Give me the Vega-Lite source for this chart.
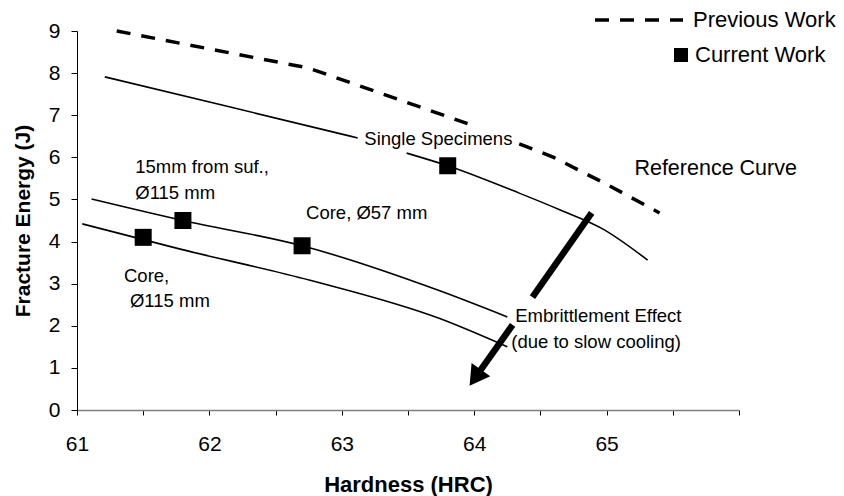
{
  "$schema": "https://vega.github.io/schema/vega-lite/v6.json",
  "width": 662,
  "height": 379,
  "autosize": {"type": "none"},
  "padding": {"left": 77, "top": 31, "right": 105, "bottom": 86},
  "background": "white",
  "config": {
    "view": {"stroke": null},
    "font": "Liberation Sans",
    "axis": {"grid": false, "labelFont": "Liberation Sans", "titleFont": "Liberation Sans", "labelColor": "black", "titleColor": "black"},
    "legend": {"labelFont": "Liberation Sans", "labelColor": "black"}
  },
  "datasets": {
    "lines": [
      {"curve": "ref", "seg": "ref1", "x": 61.21, "y": 7.91},
      {"curve": "ref", "seg": "ref1", "x": 62.15, "y": 7.2},
      {"curve": "ref", "seg": "ref1", "x": 63.12, "y": 6.46},
      {"curve": "ref", "seg": "ref2", "x": 63.49, "y": 6.1},
      {"curve": "ref", "seg": "ref2", "x": 63.8, "y": 5.8},
      {"curve": "ref", "seg": "ref2", "x": 64.34, "y": 5.15},
      {"curve": "ref", "seg": "ref2", "x": 64.65, "y": 4.75},
      {"curve": "ref", "seg": "ref2", "x": 64.97, "y": 4.3},
      {"curve": "ref", "seg": "ref2", "x": 65.31, "y": 3.56},
      {"curve": "A", "seg": "A", "x": 61.11, "y": 5.01},
      {"curve": "A", "seg": "A", "x": 61.8, "y": 4.5},
      {"curve": "A", "seg": "A", "x": 62.7, "y": 3.9},
      {"curve": "A", "seg": "A", "x": 63.74, "y": 2.83},
      {"curve": "A", "seg": "A", "x": 64.25, "y": 2.21},
      {"curve": "B", "seg": "B", "x": 61.04, "y": 4.42},
      {"curve": "B", "seg": "B", "x": 61.78, "y": 3.82},
      {"curve": "B", "seg": "B", "x": 62.76, "y": 3.08},
      {"curve": "B", "seg": "B", "x": 63.74, "y": 2.17},
      {"curve": "B", "seg": "B", "x": 64.25, "y": 1.5},
      {"curve": "prev", "seg": "prev1", "series": "Previous Work", "x": 61.3, "y": 9.0},
      {"curve": "prev", "seg": "prev1", "series": "Previous Work", "x": 62.75, "y": 8.12},
      {"curve": "prev", "seg": "prev1", "series": "Previous Work", "x": 63.95, "y": 6.8},
      {"curve": "prev", "seg": "prev2", "series": "Previous Work", "x": 64.34, "y": 6.32},
      {"curve": "prev", "seg": "prev2", "series": "Previous Work", "x": 64.6, "y": 6.0},
      {"curve": "prev", "seg": "prev2", "series": "Previous Work", "x": 65.0, "y": 5.36},
      {"curve": "prev", "seg": "prev2", "series": "Previous Work", "x": 65.4, "y": 4.68}
    ],
    "points": [
      {"kind": "Current Work", "x": 61.5, "y": 4.1},
      {"kind": "Current Work", "x": 61.8, "y": 4.5},
      {"kind": "Current Work", "x": 62.7, "y": 3.9},
      {"kind": "Current Work", "x": 63.8, "y": 5.8}
    ],
    "shaft": [
      {"x": 64.887, "y": 4.68, "x2": 64.44, "y2": 2.68},
      {"x": 64.29, "y": 2.02, "x2": 64.008, "y2": 0.767}
    ],
    "head": [
      {"x": 64.008, "y": 0.767}
    ],
    "labels": [
      {"x": 63.17, "y": 6.29, "label": "Single Specimens"},
      {"x": 61.44, "y": 5.63, "label": "15mm from suf.,"},
      {"x": 61.44, "y": 5.0, "label": "Ø115 mm"},
      {"x": 62.73, "y": 4.53, "label": "Core, Ø57 mm"},
      {"x": 61.355, "y": 3.05, "label": "Core,"},
      {"x": 61.4, "y": 2.44, "label": "Ø115 mm"},
      {"x": 64.31, "y": 2.1, "label": "Embrittlement Effect"},
      {"x": 64.28, "y": 1.47, "label": "(due to slow  cooling)"}
    ],
    "biglabels": [
      {"x": 65.21, "y": 5.58, "label": "Reference Curve"}
    ]
  },
  "encoding": {
    "x": {
      "field": "x", "type": "quantitative",
      "scale": {"domain": [61, 66], "nice": false, "zero": false},
      "axis": {
        "title": "Hardness (HRC)",
        "values": [61, 61.5, 62, 62.5, 63, 63.5, 64, 64.5, 65, 65.5, 66],
        "labelExpr": "(datum.value % 1 === 0 && datum.value < 66) ? format(datum.value, 'd') : ''",
        "labelFlush": false, "labelOverlap": false,
        "domainColor": "#808080", "domainWidth": 1.5,
        "tickColor": "black", "tickSize": 5, "tickWidth": 1,
        "labelFontSize": 21, "labelPadding": 18,
        "titleFontSize": 22, "titleFontWeight": "bold", "titlePadding": 20
      }
    },
    "y": {
      "field": "y", "type": "quantitative",
      "scale": {"domain": [0, 9], "nice": false},
      "axis": {
        "title": "Fracture Energy (J)",
        "values": [0, 1, 2, 3, 4, 5, 6, 7, 8, 9],
        "labelFlush": false,
        "domainColor": "black", "domainWidth": 1,
        "tickColor": "black", "tickSize": 6, "tickWidth": 1,
        "labelFontSize": 21, "labelPadding": 11,
        "titleFontSize": 21, "titleFontWeight": "bold", "titlePadding": 15
      }
    }
  },
  "layer": [
    {
      "data": {"name": "lines"},
      "transform": [{"filter": "datum.curve !== 'prev'"}],
      "mark": {"type": "line", "color": "black", "strokeWidth": 1.6, "interpolate": "monotone"},
      "encoding": {"detail": {"field": "seg"}}
    },
    {
      "data": {"name": "lines"},
      "transform": [{"filter": "datum.curve === 'prev'"}],
      "mark": {"type": "line", "color": "black", "strokeWidth": 3.5, "strokeCap": "butt"},
      "encoding": {
        "detail": {"field": "seg"},
        "strokeDash": {
          "field": "series", "type": "nominal",
          "scale": {"domain": ["Previous Work"], "range": [[14, 11]]},
          "legend": {
            "title": null, "orient": "none", "legendX": 516, "legendY": -57,
            "symbolType": "stroke", "symbolSize": 7744, "symbolStrokeWidth": 3.5,
            "symbolStrokeColor": "black", "labelFontSize": 22, "labelOffset": 8, "padding": 0
          }
        }
      }
    },
    {
      "data": {"name": "shaft"},
      "mark": {"type": "rule", "color": "black", "strokeWidth": 6.5, "strokeCap": "butt"},
      "encoding": {"x2": {"field": "x2"}, "y2": {"field": "y2"}}
    },
    {
      "data": {"name": "head"},
      "mark": {"type": "point", "shape": "triangle-up", "filled": true, "color": "black", "opacity": 1, "size": 520, "angle": 215}
    },
    {
      "data": {"name": "points"},
      "mark": {"type": "point", "filled": true, "color": "black", "opacity": 1, "size": 289},
      "encoding": {
        "shape": {
          "field": "kind", "type": "nominal",
          "scale": {"domain": ["Current Work"], "range": ["square"]},
          "legend": {
            "title": null, "orient": "none", "legendX": 593, "legendY": 13,
            "symbolType": "square", "symbolSize": 196, "symbolFillColor": "black",
            "symbolStrokeColor": "black", "symbolStrokeWidth": 0, "symbolOpacity": 1,
            "labelFontSize": 22, "labelOffset": 3, "padding": 0
          }
        }
      }
    },
    {
      "data": {"name": "labels"},
      "mark": {"type": "text", "align": "left", "baseline": "alphabetic", "fontSize": 18.5, "color": "black", "font": "Liberation Sans"},
      "encoding": {"text": {"field": "label"}}
    },
    {
      "data": {"name": "biglabels"},
      "mark": {"type": "text", "align": "left", "baseline": "alphabetic", "fontSize": 21.5, "color": "black", "font": "Liberation Sans"},
      "encoding": {"text": {"field": "label"}}
    }
  ]
}
